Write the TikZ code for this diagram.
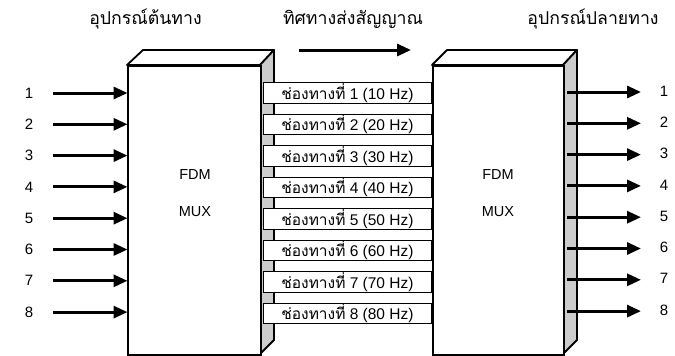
\documentclass[tikz,border=0pt]{standalone}
\usepackage{fontspec}
\setmainfont{Liberation Sans}
\newfontfamily\thaifont[Script=Thai]{Loma}
\usetikzlibrary{arrows.meta}
\begin{document}
\begin{tikzpicture}[x=1pt,y=-1pt,
  face/.style={draw,line width=1.8pt,fill=white,inner sep=0pt,anchor=north west,minimum width=133pt,minimum height=289pt},
  sideface/.style={draw,line width=1.8pt,fill=gray!40,line join=round},
  topface/.style={draw,line width=1.8pt,fill=white,line join=round},
  chan/.style={draw,line width=0.9pt,fill=white,anchor=north west,minimum width=168pt,minimum height=20.5pt,inner sep=0pt,font=\fontsize{15.5}{16}\selectfont},
  sig/.style={line width=3pt,-{Triangle[length=14pt,width=12pt]}},
  num/.style={font=\fontsize{15}{16}\selectfont,inner sep=0pt},
  title/.style={font=\thaifont\fontsize{17.7}{18}\selectfont,inner sep=0pt},
  lbl/.style={font=\fontsize{14.5}{15}\selectfont,inner sep=0pt}]
\useasboundingbox (0,0) rectangle (675,356);
% left box
\draw[topface] (127,65) -- (143,50) -- (274,50) -- (260,65) -- cycle;
\draw[sideface] (260,65) -- (274,50) -- (274,340) -- (260,354) -- cycle;
\node[face] (L) at (127,65) {};
% right box
\draw[topface] (432,65) -- (447,50) -- (577,50) -- (563,65) -- cycle;
\draw[sideface] (563,65) -- (577,50) -- (577,340) -- (563,354) -- cycle;
\node[face,minimum width=131pt] (R) at (432,65) {};
% labels in boxes
\node[lbl] (lf) at (195,175) {FDM};
\node[lbl] (lm) at (195,212) {MUX};
\node[lbl] (rf) at (498,175) {FDM};
\node[lbl] (rm) at (498,212) {MUX};
% titles
\node[title] (t1) at (145.5,19) {อุปกรณ์ต้นทาง};
\node[title] (t2) at (353,19) {ทิศทางส่งสัญญาณ};
\node[title] (t3) at (593,19) {อุปกรณ์ปลายทาง};
\coordinate (ds) at (299,50);
\coordinate (de) at (411,50);
\draw[sig] (ds) -- (de);
% channels, arrows
\foreach \i/\f in {1/10,2/20,3/30,4/40,5/50,6/60,7/70,8/80}{
  \pgfmathsetmacro{\ct}{82+31.5*(\i-1)}
  \pgfmathsetmacro{\ay}{93+31.3*(\i-1)}
  \node[chan] (c\i) at (263,\ct) {{\thaifont ช่องทางที่} \i\ (\f\ Hz)};
  \node[num] (n\i) at (29,\ay) {\i};
  \coordinate (s\i) at (53,\ay);
  \coordinate (e\i) at (127.5,\ay);
  \draw[sig] (s\i) -- (e\i);
  \node[num] (m\i) at (664,\ay-2) {\i};
  \coordinate (rs\i) at (567,\ay-1);
  \coordinate (re\i) at (641,\ay-1);
  \draw[sig] (rs\i) -- (re\i);
}
\end{tikzpicture}
\end{document}
